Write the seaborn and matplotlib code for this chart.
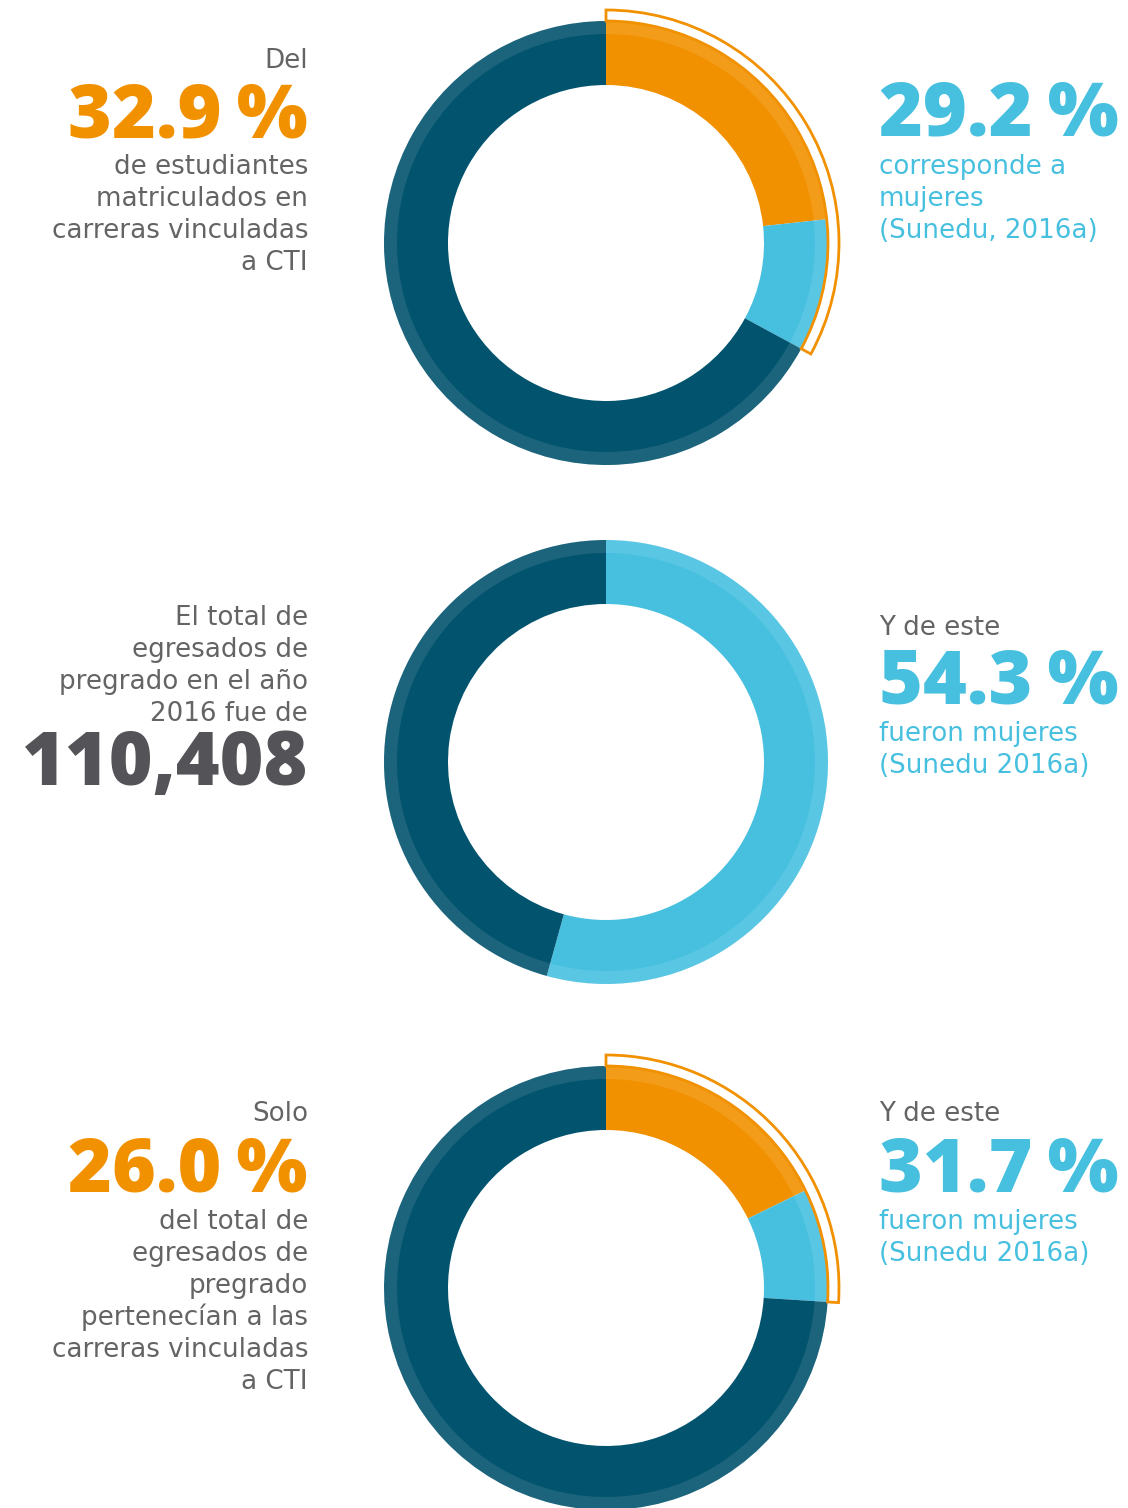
# plot.py
# ---------
# Three donut rings (CTI enrolment / graduates, share of women) with side texts.
# Run: python plot.py

import matplotlib
matplotlib.use("Agg")
import matplotlib.pyplot as plt
import seaborn as sns

# ── Data ──────────────────────────────────────────────────────────────────────
cti_matriculados   = 32.9    # % of students enrolled in CTI careers
mujeres_matric_cti = 29.2    # % of those that are women
mujeres_egresados  = 54.3    # % of undergrad graduates that are women
total_egresados    = "110,408"
cti_egresados      = 26.0    # % of graduates from CTI careers
mujeres_egres_cti  = 31.7    # % of those that are women

ring1 = [cti_matriculados * (1 - mujeres_matric_cti / 100),
         cti_matriculados * mujeres_matric_cti / 100,
         100 - cti_matriculados]
ring2 = [mujeres_egresados, 100 - mujeres_egresados]
ring3 = [cti_egresados * (1 - mujeres_egres_cti / 100),
         cti_egresados * mujeres_egres_cti / 100,
         100 - cti_egresados]

# ── Style ─────────────────────────────────────────────────────────────────────
ORANGE  = "#F29100"
BLUE    = "#47C0E0"
DARK    = "#02536E"
GREY    = "#646464"
NUMGREY = "#545458"

sns.set_theme(style="white")
plt.rcParams["font.family"] = ["DejaVu Sans"]
BIG_FONT = ["Open Sans", "DejaVu Sans"]

FIG_W, FIG_H = 1128, 1508
CX = 606
R_OUT, R_IN, BAND = 222, 158, 13
BODY = 18.8
BIG  = 54
LEFT_X, RIGHT_X = 308, 879

fig = plt.figure(figsize=(FIG_W / 100, FIG_H / 100), dpi=100)
tax = fig.add_axes([0, 0, 1, 1])
tax.set_xlim(0, FIG_W)
tax.set_ylim(FIG_H, 0)
tax.axis("off")


def donut(cy, values, colors, bracket=None):
    half = 260
    ax = fig.add_axes([(CX - half) / FIG_W, 1 - (cy + half) / FIG_H,
                       2 * half / FIG_W, 2 * half / FIG_H])
    ax.pie(values, colors=colors, radius=R_OUT, startangle=90, counterclock=False,
           wedgeprops=dict(width=R_OUT - R_IN, linewidth=0))
    # lighter outer band
    ax.pie(values, colors=["white"] * len(values), radius=R_OUT, startangle=90,
           counterclock=False, wedgeprops=dict(width=BAND, linewidth=0, alpha=0.1))
    if bracket is not None:
        wedges, _ = ax.pie([bracket, 100 - bracket], radius=R_OUT + 11, startangle=90,
                           counterclock=False,
                           wedgeprops=dict(width=11, facecolor="none",
                                           edgecolor=ORANGE, linewidth=2))
        wedges[1].set_visible(False)
    ax.set_xlim(-half, half)
    ax.set_ylim(-half, half)
    ax.set_aspect("equal")
    ax.set_axis_off()
    return ax


def lines(x, y0, rows, color, ha):
    for i, row in enumerate(rows):
        tax.text(x, y0 + 32 * i, row, color=color, fontsize=BODY, ha=ha, va="baseline")


def big(x, y, s, color, ha):
    tax.text(x, y, s, color=color, fontsize=BIG, fontweight="heavy",
             family=BIG_FONT, ha=ha, va="baseline")


# ── Donut 1: enrolment ────────────────────────────────────────────────────────
donut(243, ring1, [ORANGE, BLUE, DARK], bracket=cti_matriculados)
lines(LEFT_X, 68, ["Del"], GREY, "right")
big(LEFT_X, 137, f"{cti_matriculados:.1f}\u2009%", ORANGE, "right")
lines(LEFT_X, 174, ["de estudiantes", "matriculados en",
                    "carreras vinculadas", "a CTI"], GREY, "right")
big(RIGHT_X, 136, f"{mujeres_matric_cti:.1f}\u2009%", BLUE, "left")
lines(RIGHT_X, 174, ["corresponde a", "mujeres", "(Sunedu, 2016a)"], BLUE, "left")

# ── Donut 2: graduates ────────────────────────────────────────────────────────
donut(762, ring2, [BLUE, DARK])
lines(LEFT_X, 625, ["El total de", "egresados de",
                    "pregrado en el año", "2016 fue de"], GREY, "right")
big(LEFT_X, 785, total_egresados, NUMGREY, "right")
lines(RIGHT_X, 635, ["Y de este"], GREY, "left")
big(RIGHT_X, 704, f"{mujeres_egresados:.1f}\u2009%", BLUE, "left")
lines(RIGHT_X, 741, ["fueron mujeres", "(Sunedu 2016a)"], BLUE, "left")

# ── Donut 3: CTI graduates ────────────────────────────────────────────────────
donut(1288, ring3, [ORANGE, BLUE, DARK], bracket=cti_egresados)
lines(LEFT_X, 1121, ["Solo"], GREY, "right")
big(LEFT_X, 1192, f"{cti_egresados:.1f}\u2009%", ORANGE, "right")
lines(LEFT_X, 1229, ["del total de", "egresados de", "pregrado",
                     "pertenecían a las", "carreras vinculadas", "a CTI"], GREY, "right")
lines(RIGHT_X, 1121, ["Y de este"], GREY, "left")
big(RIGHT_X, 1192, f"{mujeres_egres_cti:.1f}\u2009%", BLUE, "left")
lines(RIGHT_X, 1229, ["fueron mujeres", "(Sunedu 2016a)"], BLUE, "left")

fig.savefig("out.png", dpi=100)
plt.close(fig)
